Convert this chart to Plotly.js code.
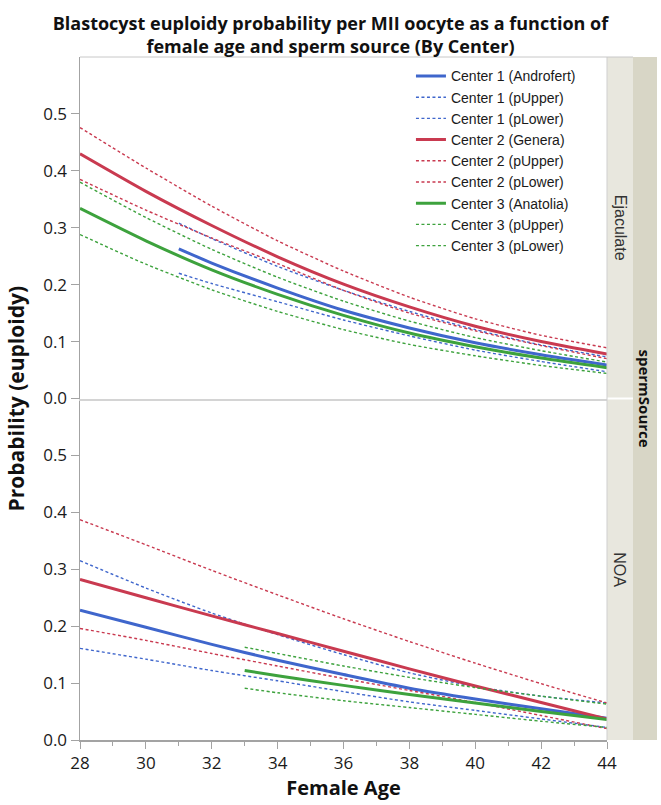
<!DOCTYPE html>
<html>
<head>
<meta charset="utf-8">
<script src="https://cdn.plot.ly/plotly-3.0.1.min.js"></script>
<style>html,body{margin:0;padding:0;background:#fff;}</style>
</head>
<body>
<div id="chart" style="width:661px;height:805px;"></div>
<script>
// ---- Data ----
var ageFull = [28, 30, 32, 34, 36, 38, 40, 42, 44];
var ageC1Ejac = [31, 32, 34, 36, 38, 40, 42, 44];
var ageC3Noa = [33, 34, 36, 38, 40, 42, 44];

// Ejaculate panel
var c1FitEjac = [0.263, 0.238, 0.194, 0.155, 0.124, 0.098, 0.077, 0.059];
var c1UpEjac  = [0.308, 0.281, 0.232, 0.190, 0.153, 0.121, 0.094, 0.073];
var c1LoEjac  = [0.220, 0.202, 0.170, 0.138, 0.110, 0.085, 0.065, 0.047];
var c2FitEjac = [0.430, 0.364, 0.304, 0.249, 0.201, 0.161, 0.127, 0.100, 0.078];
var c2UpEjac  = [0.476, 0.405, 0.338, 0.277, 0.224, 0.178, 0.140, 0.111, 0.089];
var c2LoEjac  = [0.385, 0.331, 0.282, 0.237, 0.190, 0.150, 0.119, 0.093, 0.070];
var c3FitEjac = [0.334, 0.277, 0.226, 0.183, 0.146, 0.115, 0.091, 0.071, 0.054];
var c3UpEjac  = [0.380, 0.318, 0.262, 0.213, 0.171, 0.136, 0.107, 0.084, 0.064];
var c3LoEjac  = [0.288, 0.236, 0.191, 0.153, 0.121, 0.095, 0.075, 0.058, 0.044];

// NOA panel
var c1FitNoa = [0.228, 0.198, 0.168, 0.140, 0.115, 0.091, 0.072, 0.055, 0.038];
var c1UpNoa  = [0.315, 0.267, 0.223, 0.185, 0.150, 0.118, 0.094, 0.077, 0.065];
var c1LoNoa  = [0.161, 0.142, 0.122, 0.104, 0.085, 0.067, 0.052, 0.037, 0.022];
var c2FitNoa = [0.282, 0.250, 0.218, 0.187, 0.156, 0.125, 0.095, 0.066, 0.037];
var c2UpNoa  = [0.387, 0.343, 0.298, 0.255, 0.213, 0.173, 0.135, 0.099, 0.065];
var c2LoNoa  = [0.196, 0.175, 0.152, 0.130, 0.108, 0.087, 0.066, 0.043, 0.020];
var c3FitNoa = [0.122, 0.113, 0.096, 0.080, 0.065, 0.050, 0.036];
var c3UpNoa  = [0.163, 0.152, 0.130, 0.110, 0.092, 0.077, 0.063];
var c3LoNoa  = [0.091, 0.083, 0.069, 0.057, 0.045, 0.033, 0.022];

var seriesNames = ["Center 1 (Androfert)", "Center 1 (pUpper)", "Center 1 (pLower)",
                   "Center 2 (Genera)", "Center 2 (pUpper)", "Center 2 (pLower)",
                   "Center 3 (Anatolia)", "Center 3 (pUpper)", "Center 3 (pLower)"];
var panelLabels = ["Ejaculate", "NOA"];
var yTickVals = [0, 0.1, 0.2, 0.3, 0.4, 0.5];
var yTickText = ["0.0", "0.1", "0.2", "0.3", "0.4", "0.5"];
var xTickVals = [28, 30, 32, 34, 36, 38, 40, 42, 44];

// ---- Styles ----
var colors = ["#3F66CC", "#C93A50", "#3DA23D"];
var SOLID_W = 3, DASH_W = 1.4, DASH = "3px,2.5px";

function tr(x, y, idx, yaxis, showLeg) {
  var c = colors[Math.floor(idx / 3)];
  var isFit = (idx % 3 === 0);
  return {
    type: "scatter", mode: "lines", x: x, y: y,
    xaxis: yaxis === "y2" ? "x2" : "x", yaxis: yaxis,
    name: seriesNames[idx], legendgroup: "g" + idx, showlegend: showLeg,
    line: {color: c, width: isFit ? SOLID_W : DASH_W, dash: isFit ? "solid" : DASH, shape: "spline", smoothing: 0.6},
    hoverinfo: "skip"
  };
}

var data = [
  tr(ageC1Ejac, c1FitEjac, 0, "y2", true),
  tr(ageC1Ejac, c1UpEjac, 1, "y2", true),
  tr(ageC1Ejac, c1LoEjac, 2, "y2", true),
  tr(ageFull, c2FitEjac, 3, "y2", true),
  tr(ageFull, c2UpEjac, 4, "y2", true),
  tr(ageFull, c2LoEjac, 5, "y2", true),
  tr(ageFull, c3FitEjac, 6, "y2", true),
  tr(ageFull, c3UpEjac, 7, "y2", true),
  tr(ageFull, c3LoEjac, 8, "y2", true),
  tr(ageFull, c1FitNoa, 0, "y", false),
  tr(ageFull, c1UpNoa, 1, "y", false),
  tr(ageFull, c1LoNoa, 2, "y", false),
  tr(ageFull, c2FitNoa, 3, "y", false),
  tr(ageFull, c2UpNoa, 4, "y", false),
  tr(ageFull, c2LoNoa, 5, "y", false),
  tr(ageC3Noa, c3FitNoa, 6, "y", false),
  tr(ageC3Noa, c3UpNoa, 7, "y", false),
  tr(ageC3Noa, c3LoNoa, 8, "y", false)
];

var axisGray = "#A3A3A3";
var tickFont = {family: "Open Sans, sans-serif", size: 17, color: "#1a1a1a"};
function yAx(domain) {
  return {
    domain: domain, range: [0, 0.6], tickvals: yTickVals, ticktext: yTickText,
    ticks: "outside", ticklen: 8, tickcolor: axisGray, tickwidth: 1,
    showline: true, linecolor: axisGray, linewidth: 1.5,
    showgrid: false, zeroline: false, tickfont: tickFont, fixedrange: true
  };
}

var s1 = 1 + 26 / 527, s2 = 1 + 50 / 527;
var layout = {
  width: 661, height: 805,
  margin: {l: 80, r: 54, t: 57, b: 65},
  paper_bgcolor: "#ffffff", plot_bgcolor: "#ffffff",
  title: {
    text: "Blastocyst euploidy probability per MII oocyte as a function of<br>female age and sperm source (By Center)",
    font: {family: "Open Sans, sans-serif", size: 18, color: "#111", weight: "bold"},
    x: 0.5, xref: "container", xanchor: "center",
    y: 1 - 30 / 805, yref: "container", yanchor: "middle"
  },
  xaxis: {
    domain: [0, 1], range: [28, 44], anchor: "y", tickvals: xTickVals,
    ticks: "outside", ticklen: 7, tickcolor: axisGray, tickwidth: 1,
    minor: {dtick: 1, tick0: 28, ticks: "outside", ticklen: 4, tickcolor: axisGray, showgrid: false},
    showline: true, linecolor: axisGray, linewidth: 1.5,
    showgrid: false, zeroline: false, tickfont: tickFont,
    title: {text: "Female Age", font: {family: "Open Sans, sans-serif", size: 20, color: "#111", weight: "bold"}, standoff: 4}
  },
  xaxis2: {
    domain: [0, 1], range: [28, 44], anchor: "y2", matches: "x",
    showticklabels: false, ticks: "", showline: true, linecolor: "#D4D4D4", linewidth: 2,
    showgrid: false, zeroline: false
  },
  yaxis: yAx([0, 0.5]),
  yaxis2: yAx([0.5, 1]),
  showlegend: true,
  legend: {
    x: 0.628, y: 0.995, xanchor: "left", yanchor: "top",
    bgcolor: "rgba(0,0,0,0)", borderwidth: 0,
    font: {family: "Liberation Sans, Arial, sans-serif", size: 14, color: "#1a1a1a"},
    tracegroupgap: 0, traceorder: "normal"
  },
  shapes: [
    {type: "rect", xref: "paper", yref: "paper", x0: 1, x1: s1, y0: 0.5015, y1: 1, fillcolor: "#E8E7DE", line: {width: 0}, layer: "below"},
    {type: "rect", xref: "paper", yref: "paper", x0: 1, x1: s1, y0: 0, y1: 0.4985, fillcolor: "#E8E7DE", line: {width: 0}, layer: "below"},
    {type: "rect", xref: "paper", yref: "paper", x0: s1, x1: s2, y0: 0, y1: 1, fillcolor: "#D8D6C6", line: {width: 0}, layer: "below"},
    {type: "line", xref: "paper", yref: "paper", x0: 1, x1: 1, y0: 0, y1: 1, line: {color: "#CFCFCF", width: 1}},
    {type: "line", xref: "paper", yref: "paper", x0: 0, x1: s1, y0: 1, y1: 1, line: {color: "#C8C8C8", width: 1}}
  ],
  annotations: [
    {text: "Probability (euploidy)", xref: "paper", yref: "paper", x: -65 / 527, y: 0.5,
     xanchor: "center", yanchor: "middle", textangle: -90, showarrow: false,
     font: {family: "Open Sans, sans-serif", size: 21, color: "#111", weight: "bold"}},
    {text: panelLabels[0], xref: "paper", yref: "paper", x: 1 + 13 / 527, y: 0.75,
     xanchor: "center", yanchor: "middle", textangle: 90, showarrow: false,
     font: {family: "Liberation Sans, Arial, sans-serif", size: 16, color: "#333"}},
    {text: panelLabels[1], xref: "paper", yref: "paper", x: 1 + 13 / 527, y: 0.25,
     xanchor: "center", yanchor: "middle", textangle: 90, showarrow: false,
     font: {family: "Liberation Sans, Arial, sans-serif", size: 16, color: "#333"}},
    {text: "spermSource", xref: "paper", yref: "paper", x: 1 + 38 / 527, y: 0.5,
     xanchor: "center", yanchor: "middle", textangle: 90, showarrow: false,
     font: {family: "Open Sans, sans-serif", size: 15, color: "#111", weight: "bold"}}
  ]
};

Plotly.newPlot("chart", data, layout, {displayModeBar: false, staticPlot: true});
</script>
</body>
</html>
